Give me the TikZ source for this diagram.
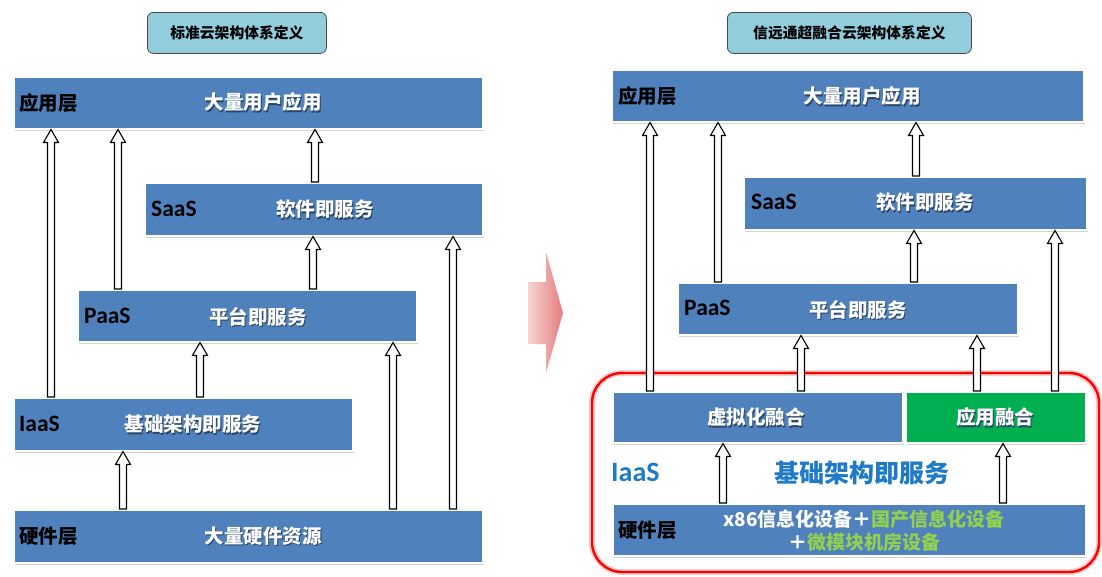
\documentclass[tikz,border=0pt]{standalone}
\usepackage{fontspec}
\setmainfont{Noto Sans CJK SC}
\newfontfamily\lat{Carlito}
\usetikzlibrary{calc,shadows}
\definecolor{boxblue}{HTML}{4F81BD}
\definecolor{boxgreen}{HTML}{00B050}
\definecolor{lgreen}{HTML}{92D050}
\definecolor{titlefill}{HTML}{92CDDC}
\definecolor{titledraw}{HTML}{4A4A4A}
\definecolor{iaasblue}{HTML}{1F7AC8}
\definecolor{pinkl}{HTML}{F6D3D3}
\definecolor{pinkr}{HTML}{E67C7C}
\definecolor{tshadow}{HTML}{2A4466}
\newcommand{\shtxt}[1]{\makebox[0pt][l]{\hspace{1pt}\raisebox{-1.2pt}{\textcolor{tshadow}{#1}}}#1}
\tikzset{
  box/.style={draw=white, line width=1.5pt, fill=boxblue, inner sep=0pt, anchor=north west,
    drop shadow={opacity=0.35, shadow xshift=1pt, shadow yshift=-1.8pt}},
  gbox/.style={box, fill=boxgreen},
  titlebox/.style={draw=titledraw, line width=0.8pt, fill=titlefill, rounded corners=6pt,
    inner sep=0pt, anchor=north west, font=\bfseries\fontsize{14.8}{17}\selectfont},
  lbl/.style={anchor=west, inner sep=0pt, text=black, font=\bfseries\fontsize{19.5}{22}\selectfont},
  latlbl/.style={lbl, font=\lat\bfseries\fontsize{23.5}{26}\selectfont},
  maintxt/.style={inner sep=0pt, text=white, font=\bfseries\fontsize{19.5}{22}\selectfont},
  harrow/.style={draw=black, fill=white, line width=1.1pt, line join=miter,
    to path={let \p1=(\tikztostart), \p2=(\tikztotarget) in
      (\x1-3.5pt,\y1) -- (\x1-3.5pt,\y2-13pt) -- (\x1-7.5pt,\y2-13pt) -- (\x1,\y2)
      -- (\x1+7.5pt,\y2-13pt) -- (\x1+3.5pt,\y2-13pt) -- (\x1+3.5pt,\y1) -- cycle}},
  redframe/.style={draw=red, line width=2.4pt, rounded corners=30pt,
    preaction={draw=red!35, line width=6pt, opacity=0.6}}
}
\begin{document}
\begin{tikzpicture}[x=1pt,y=-1pt]
\useasboundingbox (0,0) rectangle (1102,576);

% ---------- left ----------
\node[titlebox, minimum width=179pt, minimum height=41pt] (Ltitle) at (147,12) {标准云架构体系定义};

\node[box, minimum width=469pt, minimum height=52pt] (Lapp) at (13,76) {};
\node[lbl] (Lapp-l) at (19,103) {应用层};
\node[maintxt] (Lapp-t) at (263,103) {\shtxt{大量用户应用}};

\node[box, minimum width=338pt, minimum height=53pt] (Lsaas) at (144,182) {};
\node[latlbl] (Lsaas-l) at (151,209) {SaaS};
\node[maintxt] (Lsaas-t) at (325,210) {\shtxt{软件即服务}};

\node[box, minimum width=339pt, minimum height=52pt] (Lpaas) at (77,289) {};
\node[latlbl] (Lpaas-l) at (84,316) {PaaS};
\node[maintxt] (Lpaas-t) at (258,317) {\shtxt{平台即服务}};

\node[box, minimum width=339pt, minimum height=53pt] (Liaas) at (13,397) {};
\node[latlbl] (Liaas-l) at (19,424) {IaaS};
\node[maintxt] (Liaas-t) at (193,425) {\shtxt{基础架构即服务}};

\node[box, minimum width=469pt, minimum height=53pt] (Lhw) at (13,509) {};
\node[lbl] (Lhw-l) at (19,536) {硬件层};
\node[maintxt] (Lhw-t) at (263,537) {\shtxt{大量硬件资源}};

\draw[harrow] (51,0 |- Liaas.north) to (51,0 |- Lapp.south);
\draw[harrow] (118,0 |- Lpaas.north) to (118,0 |- Lapp.south);
\draw[harrow] (315,0 |- Lsaas.north) to (315,0 |- Lapp.south);
\draw[harrow] (313,0 |- Lpaas.north) to (313,0 |- Lsaas.south);
\draw[harrow] (453,0 |- Lhw.north) to (453,0 |- Lsaas.south);
\draw[harrow] (200,0 |- Liaas.north) to (200,0 |- Lpaas.south);
\draw[harrow] (393,0 |- Lhw.north) to (393,0 |- Lpaas.south);
\draw[harrow] (123,0 |- Lhw.north) to (123,0 |- Liaas.south);

% ---------- middle arrow ----------
\shade[left color=pinkl, right color=pinkr]
  (528,282) -- (546,282) -- (546,252) -- (563,313) -- (546,373) -- (546,344) -- (528,344) -- cycle;

% ---------- right ----------
\node[titlebox, minimum width=244pt, minimum height=41pt] (Rtitle) at (727,12) {信远通超融合云架构体系定义};

\node[box, minimum width=472pt, minimum height=52pt] (Rapp) at (611,69) {};
\node[lbl] (Rapp-l) at (618,96) {应用层};
\node[maintxt] (Rapp-t) at (862,97) {\shtxt{大量用户应用}};

\node[box, minimum width=343pt, minimum height=53pt] (Rsaas) at (743,176) {};
\node[latlbl] (Rsaas-l) at (751,202) {SaaS};
\node[maintxt] (Rsaas-t) at (925,203) {\shtxt{软件即服务}};

\node[box, minimum width=340pt, minimum height=52pt] (Rpaas) at (677,282) {};
\node[latlbl] (Rpaas-l) at (684,308) {PaaS};
\node[maintxt] (Rpaas-t) at (858,310) {\shtxt{平台即服务}};

\draw[redframe] (592,373) rectangle (1099,572);

\node[box, minimum width=290pt, minimum height=51pt] (Rvirt) at (612,391) {};
\node[maintxt] (Rvirt-t) at (756,418) {\shtxt{虚拟化融合}};
\node[gbox, minimum width=180pt, minimum height=51pt] (Rappf) at (905,391) {};
\node[maintxt] (Rappf-t) at (995,418) {\shtxt{应用融合}};

\node[anchor=west, inner sep=0pt, text=iaasblue, font=\lat\bfseries\fontsize{28}{30}\selectfont] (Riaas-l) at (611,472) {IaaS};
\node[inner sep=0pt, text=iaasblue, font=\bfseries\fontsize{25}{28}\selectfont] (Riaas-t) at (862,473) {基础架构即服务};

\node[box, minimum width=473pt, minimum height=52pt] (Rhw) at (612,503) {};
\node[lbl] (Rhw-l) at (618,530) {硬件层};
\node[maintxt, align=center, font=\bfseries\fontsize{19}{23}\selectfont] (Rhw-t) at (864,531)
  {x86信息化设备＋\textcolor{lgreen}{国产信息化设备}\\＋\textcolor{lgreen}{微模块机房设备}};

\draw[harrow] (650,0 |- Rvirt.north) to (650,0 |- Rapp.south);
\draw[harrow] (718,0 |- Rpaas.north) to (718,0 |- Rapp.south);
\draw[harrow] (916,0 |- Rsaas.north) to (916,0 |- Rapp.south);
\draw[harrow] (914,0 |- Rpaas.north) to (914,0 |- Rsaas.south);
\draw[harrow] (1055,0 |- Rappf.north) to (1055,0 |- Rsaas.south);
\draw[harrow] (801,0 |- Rvirt.north) to (801,0 |- Rpaas.south);
\draw[harrow] (977,0 |- Rappf.north) to (977,0 |- Rpaas.south);
\draw[harrow] (723,0 |- Rhw.north) to (723,0 |- Rvirt.south);
\draw[harrow] (1003,0 |- Rhw.north) to (1003,0 |- Rappf.south);
\end{tikzpicture}
\end{document}
